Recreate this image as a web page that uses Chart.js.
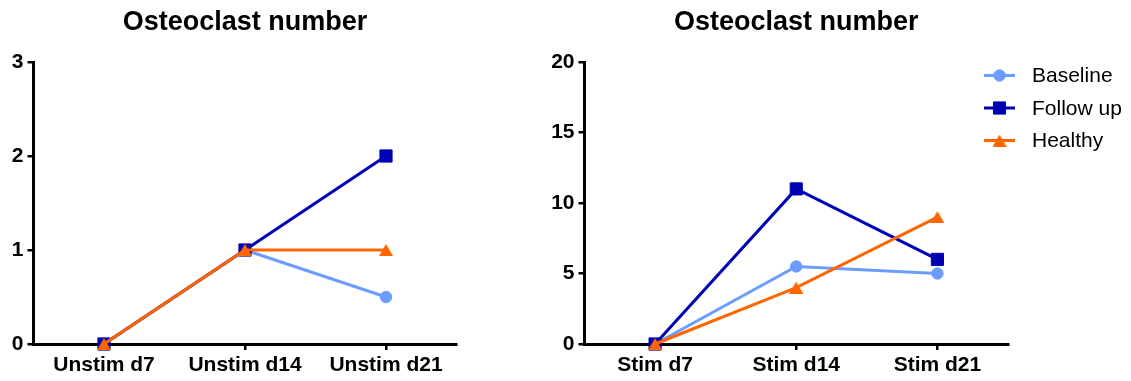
<!DOCTYPE html>
<html>
<head>
<meta charset="utf-8">
<script src="https://cdn.jsdelivr.net/npm/chart.js@4/dist/chart.umd.min.js"></script>
<style>
  html, body { margin: 0; padding: 0; background: #fff; }
  #wrap { position: relative; width: 1131px; height: 381px; overflow: hidden; }
  #left { position: absolute; left: 0; top: 0; }
  #right { position: absolute; left: 470px; top: 0; }
</style>
</head>
<body>
<div id="wrap">
  <canvas id="left" width="475" height="381"></canvas>
  <canvas id="right" width="661" height="381"></canvas>
</div>
<script>
// Osteoclast counts per culture day
const titleText = 'Osteoclast number';
const seriesNames = ['Baseline', 'Follow up', 'Healthy'];

const unstimLabels = ['Unstim d7', 'Unstim d14', 'Unstim d21'];
const unstimBaseline = [0, 1, 0.5];
const unstimFollowUp = [0, 1, 2];
const unstimHealthy = [0, 1, 1];
const unstimTicks = [0, 1, 2, 3];

const stimLabels = ['Stim d7', 'Stim d14', 'Stim d21'];
const stimBaseline = [0, 5.5, 5];
const stimFollowUp = [0, 11, 6];
const stimHealthy = [0, 4, 9];
const stimTicks = [0, 5, 10, 15, 20];

const FONT = "'Liberation Sans', Arial, Helvetica, sans-serif";

// Upward triangle marker centred on its bounding box
function triangleMarker(color, w, h) {
  const c = document.createElement('canvas');
  c.width = w;
  c.height = h;
  const g = c.getContext('2d');
  g.fillStyle = color;
  g.beginPath();
  g.moveTo(w / 2, 0);
  g.lineTo(w, h);
  g.lineTo(0, h);
  g.closePath();
  g.fill();
  return c;
}

const seriesStyle = [
  { color: '#6b9cff', pointStyle: 'circle', radius: 5.7, order: 2 },
  { color: '#0000b4', pointStyle: 'rect', radius: 8.6, order: 1 },
  { color: '#ff6600', pointStyle: triangleMarker('#ff6600', 14, 12), radius: 7, order: 0 }
];

function makeDatasets(valueSets) {
  return valueSets.map((vals, i) => ({
    label: seriesNames[i],
    data: vals,
    borderColor: seriesStyle[i].color,
    backgroundColor: seriesStyle[i].color,
    pointBackgroundColor: seriesStyle[i].color,
    pointBorderColor: seriesStyle[i].color,
    pointStyle: seriesStyle[i].pointStyle,
    pointRadius: seriesStyle[i].radius,
    pointHoverRadius: seriesStyle[i].radius,
    pointBorderWidth: 1,
    borderWidth: 3,
    tension: 0,
    clip: false,
    order: seriesStyle[i].order
  }));
}

// Line + marker legend drawn beside the plot area
const sideLegend = {
  id: 'sideLegend',
  afterDraw(chart, args, opts) {
    if (!opts || !opts.show) return;
    const ctx = chart.ctx;
    ctx.save();
    chart.data.datasets.forEach((ds, i) => {
      const y = opts.y + i * opts.step;
      ctx.strokeStyle = ds.borderColor;
      ctx.lineWidth = 3;
      ctx.beginPath();
      ctx.moveTo(opts.x, y);
      ctx.lineTo(opts.x + opts.lineLen, y);
      ctx.stroke();
      ctx.fillStyle = ds.pointBackgroundColor;
      ctx.strokeStyle = ds.pointBorderColor;
      ctx.lineWidth = 1;
      Chart.helpers.drawPoint(ctx, {
        pointStyle: ds.pointStyle, radius: ds.pointRadius, rotation: 0, borderWidth: 1
      }, opts.x + opts.lineLen / 2, y);
      ctx.fillStyle = '#000';
      ctx.font = '21px ' + FONT;
      ctx.textBaseline = 'middle';
      ctx.textAlign = 'left';
      ctx.fillText(ds.label, opts.x + opts.textGap, y + 1);
    });
    ctx.restore();
  }
};

function makeChart(canvasId, labels, valueSets, ticks, yWidth, padding, legend) {
  return new Chart(document.getElementById(canvasId), {
    type: 'line',
    data: { labels: labels, datasets: makeDatasets(valueSets) },
    plugins: [sideLegend],
    options: {
      responsive: false,
      animation: false,
      events: [],
      layout: { padding: padding },
      plugins: {
        legend: { display: false },
        tooltip: { enabled: false },
        title: {
          display: true,
          text: titleText,
          fullSize: false,
          color: '#000',
          font: { family: FONT, size: 27, weight: 'bold', lineHeight: 1.2 },
          padding: { top: 6, bottom: 23.6 }
        },
        sideLegend: legend
      },
      scales: {
        x: {
          type: 'category',
          offset: true,
          afterFit(scale) { scale.height = 37; },
          border: { display: true, color: '#000', width: 3 },
          grid: {
            display: true, offset: false, drawOnChartArea: false,
            drawTicks: true, tickLength: 6, color: '#000', lineWidth: 2.5
          },
          ticks: {
            color: '#000', padding: 3, maxRotation: 0, autoSkip: false,
            font: { family: FONT, size: 21, weight: 'bold' }
          }
        },
        y: {
          min: ticks[0],
          max: ticks[ticks.length - 1],
          afterFit(scale) { scale.width = yWidth; },
          afterBuildTicks(scale) { scale.ticks = ticks.map(v => ({ value: v })); },
          border: { display: true, color: '#000', width: 3 },
          grid: {
            display: true, drawOnChartArea: false,
            drawTicks: true, tickLength: 6, color: '#000', lineWidth: 2.5
          },
          ticks: {
            color: '#000', padding: 4,
            font: { family: FONT, size: 21, weight: 'bold' }
          }
        }
      }
    }
  });
}

makeChart('left', unstimLabels,
  [unstimBaseline, unstimFollowUp, unstimHealthy], unstimTicks,
  33, { left: 0.5, right: 18.5, top: 0, bottom: 0 }, { show: false });

makeChart('right', stimLabels,
  [stimBaseline, stimFollowUp, stimHealthy], stimTicks,
  40, { left: 74.5, right: 123, top: 0, bottom: 0 },
  { show: true, x: 514, y: 75.5, step: 32.5, lineLen: 31, textGap: 48 });
</script>
</body>
</html>
